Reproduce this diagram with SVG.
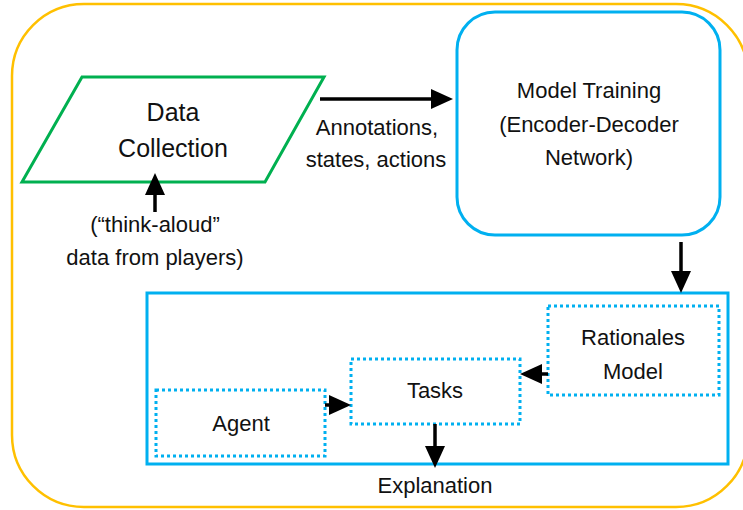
<svg xmlns="http://www.w3.org/2000/svg" width="743" height="510" viewBox="0 0 743 510">
<style>
text{font-family:"Liberation Sans",Arial,sans-serif;font-size:22px;fill:#111;text-anchor:middle}
.big{font-size:25px}
.orange{fill:none;stroke:#FFC000;stroke-width:2.5}
.green{fill:#fff;stroke:#00B050;stroke-width:3}
.blue{fill:#fff;stroke:#00B0F0;stroke-width:3}
.dot{fill:#fff;stroke:#00B0F0;stroke-width:3;stroke-dasharray:3 3}
.conn line{stroke:#000;stroke-width:3.5;marker-end:url(#ah)}
</style>
<defs>
<marker id="ah" markerUnits="userSpaceOnUse" viewBox="0 0 22 20" markerWidth="22" markerHeight="20" refX="12" refY="10" orient="auto">
<path d="M0,0 L22,10 L0,20 z" fill="#000"/>
</marker>
</defs>
<rect width="743" height="510" fill="#fff"/>
<g id="frame"><rect class="orange" x="12" y="4" width="736" height="503" rx="72" ry="72"/></g>
<g id="data-collection">
<polygon class="green" points="82,77 324,77 265,182 22,182"/>
<text class="big" x="173" y="121">Data</text>
<text class="big" x="173" y="157">Collection</text>
</g>
<g id="think-aloud">
<text x="155" y="232">(“think-aloud”</text>
<text x="155" y="265">data from players)</text>
</g>
<g id="annotations-label">
<text x="377" y="135">Annotations,</text>
<text x="376" y="167">states, actions</text>
</g>
<g id="model-training">
<rect class="blue" x="457" y="12" width="263" height="223" rx="38" ry="38"/>
<text x="589" y="98">Model Training</text>
<text x="589" y="132">(Encoder-Decoder</text>
<text x="589" y="165">Network)</text>
</g>
<g id="explanation-system">
<rect class="blue" x="147" y="293" width="581" height="171"/>
</g>
<g id="rationales-model">
<rect class="dot" x="548" y="306" width="171" height="89"/>
<text x="633" y="345">Rationales</text>
<text x="633" y="379">Model</text>
</g>
<g id="tasks">
<rect class="dot" x="351" y="359" width="169" height="65"/>
<text x="435" y="398">Tasks</text>
</g>
<g id="agent">
<rect class="dot" x="156" y="390" width="169" height="66"/>
<text x="241" y="431">Agent</text>
</g>
<g id="explanation">
<text x="435" y="493">Explanation</text>
</g>
<g id="connectors" class="conn">
<line x1="320" y1="99" x2="443" y2="99"/>
<line x1="155" y1="212" x2="155" y2="183"/>
<line x1="681" y1="242" x2="681" y2="283"/>
<line x1="325" y1="405" x2="341" y2="405"/>
<line x1="548" y1="374" x2="530" y2="374"/>
<line x1="435" y1="424" x2="435" y2="458"/>
</g>
</svg>
